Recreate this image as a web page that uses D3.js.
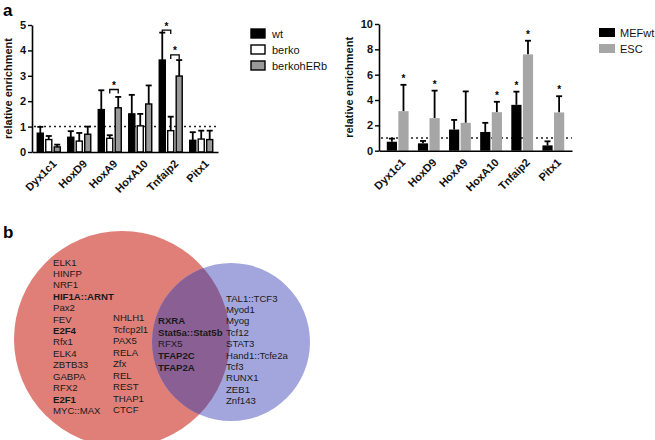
<!DOCTYPE html>
<html>
<head>
<meta charset="utf-8">
<script src="https://cdn.jsdelivr.net/npm/d3@7"></script>
<style>
  body { margin: 0; background: #fff; }
  text { font-family: "Liberation Sans", Arial, sans-serif; }
</style>
</head>
<body>
<svg id="fig" width="655" height="440"></svg>
<script>
// data: panel a, left chart
var genes = ["Dyx1c1", "HoxD9", "HoxA9", "HoxA10", "Tnfaip2", "Pitx1"];
var seriesA = ["wt", "berko", "berkohERb"];
var wtMean = [0.74, 0.58, 1.67, 1.5, 3.62, 0.46];
var wtErr = [0.99, 0.82, 2.43, 2.25, 4.7, 0.78];
var berkoMean = [0.49, 0.43, 0.54, 1.03, 0.84, 0.51];
var berkoErr = [0.63, 0.75, 0.66, 1.5, 1.39, 0.84];
var herbMean = [0.2, 0.7, 1.74, 1.89, 2.99, 0.49];
var herbErr = [0.29, 1.0, 2.17, 2.62, 3.62, 0.84];
// brackets: gene, from series, to series, level
var bracketGene = ["HoxA9", "Tnfaip2", "Tnfaip2"];
var bracketFrom = ["berko", "wt", "berko"];
var bracketTo = ["berkohERb", "berko", "berkohERb"];
var bracketLevel = [2.46, 4.8, 3.82];

// data: panel a, right chart
var seriesB = ["MEFwt", "ESC"];
var mefMean = [0.71, 0.58, 1.67, 1.48, 3.62, 0.42];
var mefErr = [0.95, 0.77, 2.43, 2.2, 4.66, 0.74];
var escMean = [3.12, 2.57, 2.2, 3.04, 7.6, 3.02];
var escErr = [5.2, 4.74, 4.68, 3.86, 8.68, 4.3];
var mefStar = [false, false, false, false, true, false];
var escStar = [true, true, false, true, true, true];

// data: panel b, venn lists
var redOnly1 = ["ELK1", "HINFP", "NRF1", "HIF1A::ARNT", "Pax2", "FEV", "E2F4", "Rfx1", "ELK4", "ZBTB33", "GABPA", "RFX2", "E2F1", "MYC::MAX"];
var redOnly2 = ["NHLH1", "Tcfcp2l1", "PAX5", "RELA", "Zfx", "REL", "REST", "THAP1", "CTCF"];
var shared = ["RXRA", "Stat5a::Stat5b", "RFX5", "TFAP2C", "TFAP2A"];
var blueOnly = ["TAL1::TCF3", "Myod1", "Myog", "Tcf12", "STAT3", "Hand1::Tcfe2a", "Tcf3", "RUNX1", "ZEB1", "Znf143"];
var boldNames = ["HIF1A::ARNT", "E2F4", "E2F1", "RXRA", "Stat5a::Stat5b", "TFAP2C", "TFAP2A"];

var svg = d3.select("#fig");

// panel letters
svg.append("text").attr("x", 3).attr("y", 16).attr("font-size", 17).attr("font-weight", "bold").text("a");
svg.append("text").attr("x", 3).attr("y", 238).attr("font-size", 17).attr("font-weight", "bold").text("b");

function drawAxes(x, y, ticks, labelX) {
  var g = svg.append("g");
  var ya = g.append("g").attr("transform", "translate(" + x.range()[0] + ",0)")
    .call(d3.axisLeft(y).tickValues(ticks).tickFormat(d3.format("d")).tickSize(4).tickSizeOuter(0));
  ya.selectAll("text").attr("font-size", 11).attr("font-weight", "bold").attr("fill", "#111").attr("dx", 1);
  var xa = g.append("g").attr("transform", "translate(0," + y(0) + ")")
    .call(d3.axisBottom(x).tickSize(0).tickSizeOuter(0).tickFormat(""));
  g.selectAll(".domain").attr("stroke", "#000").attr("stroke-width", 1.6);
  g.selectAll(".tick line").attr("stroke", "#000").attr("stroke-width", 1.4);
  // rotated category labels
  x.domain().forEach(function (name) {
    var cx = x(name) + x.bandwidth() / 2 + 3;
    svg.append("text")
      .attr("transform", "translate(" + cx + "," + (y(0) + 7) + ") rotate(-45)")
      .attr("text-anchor", "end").attr("dy", "0.7em")
      .attr("font-size", 11).attr("font-weight", "bold").attr("fill", "#111")
      .text(name);
  });
  svg.append("text")
    .attr("transform", "translate(" + labelX + "," + ((y.range()[0] + y.range()[1]) / 2) + ") rotate(-90)")
    .attr("text-anchor", "middle").attr("font-size", 11).attr("font-weight", "bold").attr("fill", "#111")
    .text("relative enrichment");
}

function dotted(x, y) {
  svg.append("line")
    .attr("x1", x.range()[0] + 2).attr("x2", x.range()[1])
    .attr("y1", y(1)).attr("y2", y(1))
    .attr("stroke", "#222").attr("stroke-width", 1.5).attr("stroke-dasharray", "2,3");
}

function errBar(cx, yTop, yVal) {
  svg.append("line").attr("x1", cx).attr("x2", cx).attr("y1", yVal).attr("y2", yTop)
    .attr("stroke", "#000").attr("stroke-width", 1.8);
  svg.append("line").attr("x1", cx - 3).attr("x2", cx + 3).attr("y1", yTop).attr("y2", yTop)
    .attr("stroke", "#000").attr("stroke-width", 1.8);
}

// ---------- left chart ----------
var xA = d3.scaleBand().domain(genes).range([32, 218]).paddingInner(0.2).paddingOuter(0.15);
var xAin = d3.scaleBand().domain(seriesA).range([0, xA.bandwidth()]).paddingInner(0.12);
var yA = d3.scaleLinear().domain([0, 5]).range([152, 25]);
var fillA = d3.scaleOrdinal().domain(seriesA).range(["#000", "#fff", "#999"]);
var meansA = { wt: wtMean, berko: berkoMean, berkohERb: herbMean };
var errsA = { wt: wtErr, berko: berkoErr, berkohERb: herbErr };

dotted(xA, yA);
seriesA.forEach(function (s) {
  genes.forEach(function (gname, i) {
    var bx = xA(gname) + xAin(s);
    var bw = xAin.bandwidth();
    errBar(bx + bw / 2, yA(errsA[s][i]), yA(meansA[s][i]));
    svg.append("rect").attr("x", bx + 0.7).attr("y", yA(meansA[s][i]))
      .attr("width", bw - 1.4).attr("height", yA(0) - yA(meansA[s][i]))
      .attr("fill", fillA(s)).attr("stroke", "#000").attr("stroke-width", 1.4);
  });
});
drawAxes(xA, yA, [0, 1, 2, 3, 4, 5], 12);

bracketGene.forEach(function (gname, i) {
  var x1 = xA(gname) + xAin(bracketFrom[i]) + xAin.bandwidth() / 2;
  var x2 = xA(gname) + xAin(bracketTo[i]) + xAin.bandwidth() / 2;
  var yy = yA(bracketLevel[i]);
  svg.append("path").attr("d", "M" + x1 + "," + (yy + 4) + "V" + yy + "H" + x2 + "V" + (yy + 4))
    .attr("fill", "none").attr("stroke", "#000").attr("stroke-width", 1.3);
  svg.append("text").attr("x", (x1 + x2) / 2).attr("y", yy - 0.5).attr("text-anchor", "middle")
    .attr("font-size", 10).attr("font-weight", "bold").text("*");
});

// left legend
seriesA.forEach(function (s, i) {
  svg.append("rect").attr("x", 251).attr("y", 29 + i * 16).attr("width", 14).attr("height", 9)
    .attr("fill", fillA(s)).attr("stroke", "#000").attr("stroke-width", 1.4);
  svg.append("text").attr("x", 272).attr("y", 37.5 + i * 16).attr("font-size", 11).attr("fill", "#111").text(s);
});

// ---------- right chart ----------
var xB = d3.scaleBand().domain(genes).range([379, 572]).paddingInner(0.3).paddingOuter(0.25);
var xBin = d3.scaleBand().domain(seriesB).range([0, xB.bandwidth()]).paddingInner(0.12);
var yB = d3.scaleLinear().domain([0, 10]).range([150.7, 24]);
var fillB = d3.scaleOrdinal().domain(seriesB).range(["#000", "#a6a6a6"]);
var meansB = { MEFwt: mefMean, ESC: escMean };
var errsB = { MEFwt: mefErr, ESC: escErr };
var starsB = { MEFwt: mefStar, ESC: escStar };

dotted(xB, yB);
seriesB.forEach(function (s) {
  genes.forEach(function (gname, i) {
    var bx = xB(gname) + xBin(s);
    var bw = xBin.bandwidth();
    errBar(bx + bw / 2, yB(errsB[s][i]), yB(meansB[s][i]));
    svg.append("rect").attr("x", bx).attr("y", yB(meansB[s][i]))
      .attr("width", bw).attr("height", yB(0) - yB(meansB[s][i]))
      .attr("fill", fillB(s));
    if (starsB[s][i]) {
      svg.append("text").attr("x", bx + bw / 2).attr("y", yB(errsB[s][i]) - 3).attr("text-anchor", "middle")
        .attr("font-size", 10).attr("font-weight", "bold").text("*");
    }
  });
});
drawAxes(xB, yB, [0, 2, 4, 6, 8, 10], 353);

seriesB.forEach(function (s, i) {
  svg.append("rect").attr("x", 599).attr("y", 28 + i * 16).attr("width", 16).attr("height", 9)
    .attr("fill", fillB(s));
  svg.append("text").attr("x", 620).attr("y", 36.5 + i * 16).attr("font-size", 11).attr("fill", "#111").text(s);
});

// ---------- venn ----------
svg.append("circle").attr("cx", 122).attr("cy", 339).attr("r", 108).attr("fill", "#e07f78");
svg.append("circle").attr("cx", 231).attr("cy", 342).attr("r", 79).attr("fill", "#a3a6dc");
svg.append("clipPath").attr("id", "redclip").append("circle").attr("cx", 122).attr("cy", 339).attr("r", 108);
svg.append("circle").attr("cx", 231).attr("cy", 342).attr("r", 79).attr("fill", "#8a5f94").attr("clip-path", "url(#redclip)");

function listCol(names, x, y0, step) {
  names.forEach(function (n, i) {
    svg.append("text").attr("x", x).attr("y", y0 + i * step).attr("font-size", 9.6)
      .attr("font-weight", boldNames.indexOf(n) >= 0 ? "bold" : "normal")
      .attr("fill", "#1a1a1a").text(n);
  });
}
listCol(redOnly1, 53, 265.5, 11.42);
listCol(redOnly2, 113, 321, 11.5);
listCol(shared, 158, 324, 11.7);
listCol(blueOnly, 226, 301.5, 11.4);
</script>
</body>
</html>
